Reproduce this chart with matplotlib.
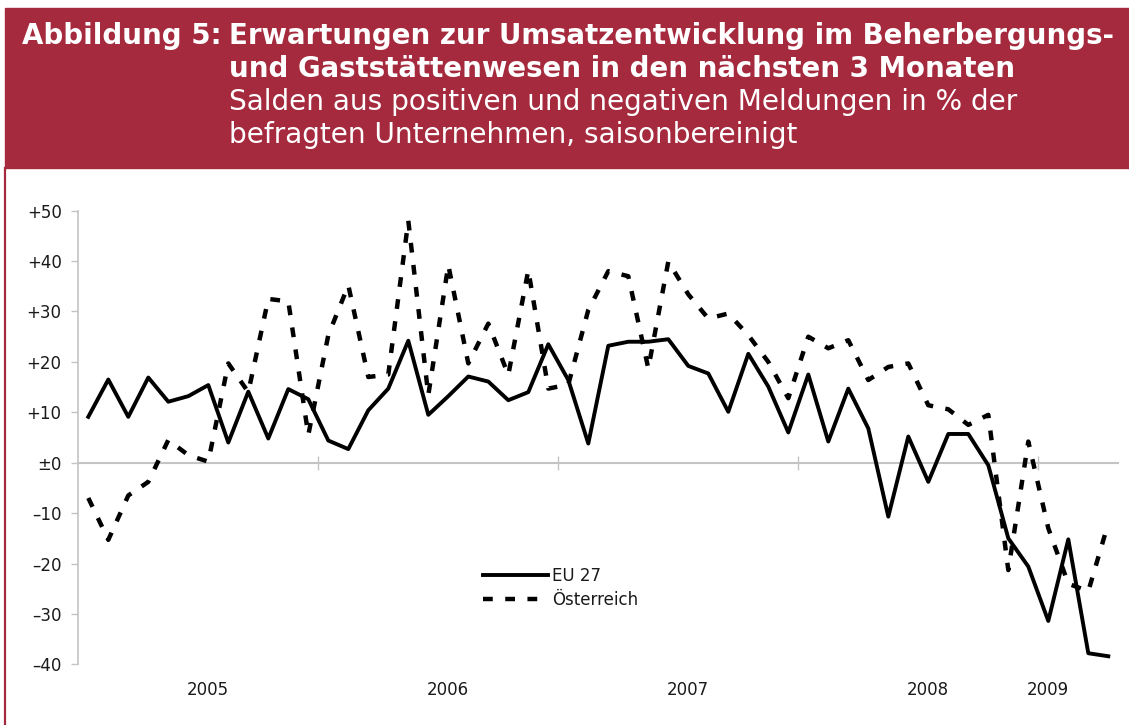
import matplotlib
matplotlib.use("Agg")
import matplotlib.pyplot as plt
from matplotlib.patches import Rectangle
from matplotlib.lines import Line2D
from matplotlib.transforms import blended_transform_factory

# Salden in %, monatlich, saisonbereinigt
eu27 = [9.1, 16.5, 9.1, 16.9, 12.1, 13.2, 15.4, 4.0, 14.1, 4.8, 14.6, 12.6,
        4.4, 2.7, 10.4, 14.7, 24.2, 9.5, 13.2, 17.1, 16.1, 12.4, 14.0, 23.5,
        16.4, 3.8, 23.2, 24.0, 24.0, 24.5, 19.2, 17.7, 10.1, 21.6, 15.1, 6.0,
        17.5, 4.2, 14.7, 6.8, -10.7, 5.2, -3.8, 5.7, 5.7, -0.5, -15.0, -20.6,
        -31.4, -15.2, -37.8, -38.4]
oesterreich = [-7.0, -15.3, -6.5, -3.8, 4.5, 1.5, 0.2, 19.7, 14.0, 32.5, 32.0, 5.5,
               25.3, 35.2, 17.0, 17.5, 48.0, 13.4, 39.2, 19.7, 27.6, 17.4, 38.2, 14.7,
               15.5, 30.3, 38.0, 37.0, 18.7, 39.9, 33.4, 28.6, 29.6, 25.3, 20.0, 12.8,
               25.0, 22.7, 24.3, 16.4, 19.0, 19.7, 11.4, 10.6, 7.5, 9.5, -21.3, 4.2,
               -13.0, -24.0, -25.5, -12.0]
months = list(range(len(eu27)))

year_labels = ["2005", "2006", "2007", "2008", "2009"]
year_pos = [6, 18, 30, 42, 48]
year_breaks = [11.5, 23.5, 35.5, 47.5]

y_ticks = [-40, -30, -20, -10, 0, 10, 20, 30, 40, 50]
y_labels = ["\u201340", "\u201330", "\u201320", "\u201310", "\u00b10",
            "+10", "+20", "+30", "+40", "+50"]

W, H = 1129, 725
red = "#A52A3E"
grey = "#C4C4C4"

fig = plt.figure(figsize=(W / 100, H / 100), dpi=100)

# Kopfzeile
fig.patches.append(Rectangle((5 / W, 1 - 168 / H), 1 - 5 / W, 160 / H,
                             transform=fig.transFigure, color=red, zorder=0))
fig.lines.append(Line2D([5 / W, 5 / W], [0, 1 - 168 / H], transform=fig.transFigure,
                        color=red, lw=1.6))
fs_bold = 19.9
fs_reg = 20.2
fig.text(22 / W, 1 - 44 / H, "Abbildung 5:", color="white", fontsize=fs_bold,
         fontweight="bold", va="baseline")
fig.text(229 / W, 1 - 44 / H, "Erwartungen zur Umsatzentwicklung im Beherbergungs-",
         color="white", fontsize=fs_bold, fontweight="bold", va="baseline")
fig.text(229 / W, 1 - 77 / H, "und Gaststättenwesen in den nächsten 3 Monaten",
         color="white", fontsize=fs_bold, fontweight="bold", va="baseline")
fig.text(229 / W, 1 - 110 / H, "Salden aus positiven und negativen Meldungen in % der",
         color="white", fontsize=fs_reg, va="baseline")
fig.text(229 / W, 1 - 143 / H, "befragten Unternehmen, saisonbereinigt",
         color="white", fontsize=fs_reg, va="baseline")

ax = fig.add_axes([78.3 / W, 0.0837, 1040 / W, 0.6257])
ax.plot(months, eu27, color="black", lw=2.8, label="EU 27", zorder=3)
ax.plot(months, oesterreich, color="black", lw=3.2, linestyle=(0, (2.2, 2.8)),
        dash_capstyle="butt", label="Österreich", zorder=3)

ax.set_xlim(-0.5, len(eu27) - 0.5)
ax.set_ylim(-40, 50)
ax.set_yticks(y_ticks)
ax.set_yticklabels(y_labels, fontsize=12, color="#1a1a1a")
ax.tick_params(axis="y", direction="out", length=5, width=1, color=grey, pad=7)

for s in ["top", "right"]:
    ax.spines[s].set_visible(False)
ax.spines["left"].set_color(grey)
ax.spines["left"].set_linewidth(1.2)
ax.spines["bottom"].set_position(("data", 0))
ax.spines["bottom"].set_color(grey)
ax.spines["bottom"].set_linewidth(1.5)
ax.set_xticks(year_breaks)
ax.set_xticklabels([])
ax.tick_params(axis="x", direction="inout", length=10, width=1, color=grey)

trans = blended_transform_factory(ax.transData, fig.transFigure)
for lab, pos in zip(year_labels, year_pos):
    ax.text(pos, 1 - 690 / H, lab, transform=trans, ha="center", va="center",
            fontsize=12, color="#1a1a1a")

leg = ax.legend(loc="center left", bbox_to_anchor=(483 / W, 1 - 588 / H),
                bbox_transform=fig.transFigure, frameon=False, fontsize=12,
                handlelength=3.9, handletextpad=0.25, labelspacing=0.35,
                borderpad=0, borderaxespad=0)
for t in leg.get_texts():
    t.set_color("#1a1a1a")

fig.savefig("out.png", dpi=100)
